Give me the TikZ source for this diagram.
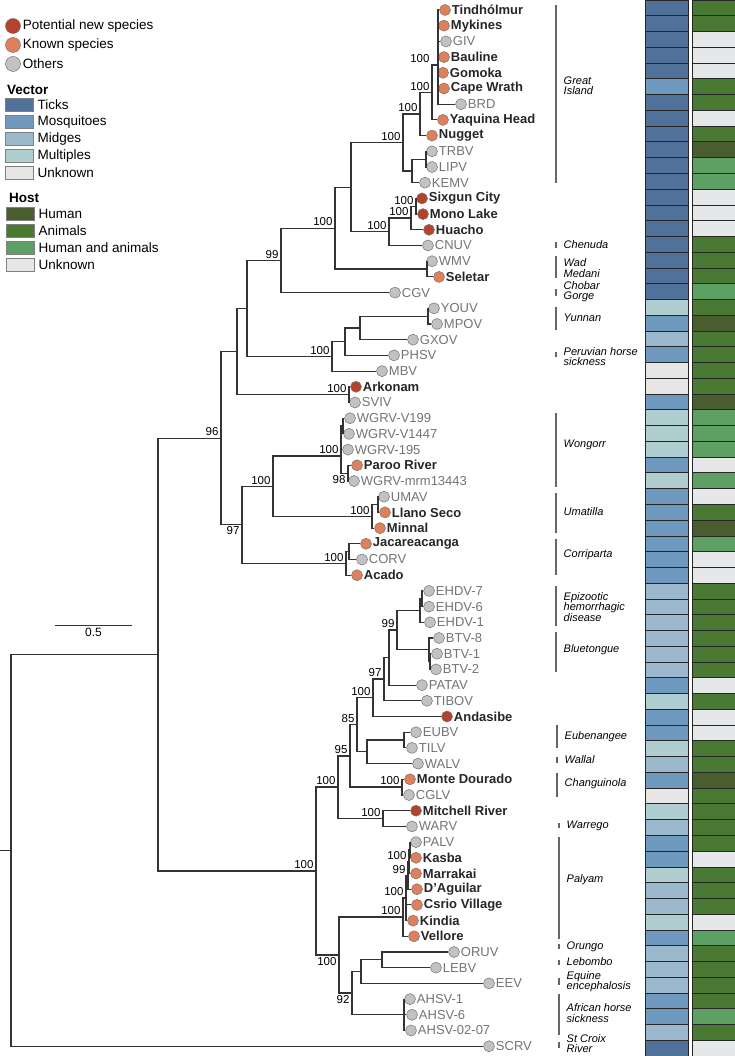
\documentclass[tikz,border=0pt]{standalone}
\usepackage{fontspec}
\setmainfont{Liberation Sans}
\usetikzlibrary{positioning}

\definecolor{vT}{HTML}{50729A}
\definecolor{vMo}{HTML}{7099BF}
\definecolor{vMi}{HTML}{9BB8CC}
\definecolor{vMu}{HTML}{B0CED0}
\definecolor{vU}{HTML}{E6E6E6}
\definecolor{hH}{HTML}{4A5D2E}
\definecolor{hA}{HTML}{4A7934}
\definecolor{hHA}{HTML}{5E9F63}
\definecolor{hU}{HTML}{E6E7E8}
\definecolor{newred}{HTML}{B5432B}
\definecolor{knownorg}{HTML}{E0805A}
\definecolor{othergrey}{HTML}{C2C2C2}

\newcommand\cladefont{\itshape\fontsize{11}{10.2}\selectfont\lineskiplimit=-20pt}

\begin{document}
\begin{tikzpicture}[x=1pt, y=-1pt,
    branch/.style={draw=black!80, line width=1.1pt},
    spdot/.style={circle, draw=black!55, line width=0.5pt, minimum size=11pt, inner sep=0pt},
    dotnew/.style={spdot, fill=newred},
    dotknown/.style={spdot, fill=knownorg},
    dotother/.style={spdot, fill=othergrey},
    txtnew/.style={anchor=west, inner sep=1pt, font=\fontsize{13}{13}\selectfont\bfseries, text=black!85},
    txtknown/.style={txtnew},
    txtother/.style={anchor=west, inner sep=1pt, font=\fontsize{13}{13}\selectfont, text=black!55},
    boot/.style={anchor=south east, inner sep=0.8pt, xshift=-1.5pt, yshift=1pt, font=\fontsize{11.5}{11.5}\selectfont},
    bootlow/.style={boot, anchor=north east, yshift=-2pt},
    clade/.style={anchor=west, inner sep=0pt, align=left, font=\cladefont},
    cladebar/.style={draw=black!60, line width=1.3pt},
    cell/.style={draw=black!85, line width=0.7pt},
    legbox/.style={draw=black!50, line width=0.8pt, minimum width=28pt, minimum height=13pt, inner sep=0pt},
    legdot/.style={spdot, minimum size=15pt},
    legtxt/.style={anchor=west, inner sep=0pt, font=\fontsize{13.5}{13.5}\selectfont},
    leghead/.style={legtxt, font=\fontsize{13.5}{13.5}\selectfont\bfseries},
]
\useasboundingbox (0,0) rectangle (735,1056);

% legend
\node[legdot, fill=newred] (lgnew) at (13,26) {};
\node[legtxt, right=2pt of lgnew] (lgnewt) {Potential new species};
\node[legdot, fill=knownorg] (lgknown) at (13,45) {};
\node[legtxt, right=2pt of lgknown] (lgknownt) {Known species};
\node[legdot, fill=othergrey] (lgother) at (13,64) {};
\node[legtxt, right=2pt of lgother] (lgothert) {Others};

\node[leghead] (vhead) at (7,90) {Vector};
\foreach \c/\txt [count=\i] in {vT/Ticks, vMo/Mosquitoes, vMi/Midges, vMu/Multiples, vU/Unknown} {
    \node[legbox, fill=\c] (vb\i) at (19,{88+17*\i}) {};
    \node[legtxt, right=4pt of vb\i] (vt\i) {\txt};
}
\node[leghead] (hhead) at (9,198) {Host};
\foreach \c/\txt [count=\i] in {hH/Human, hA/Animals, hHA/Human and animals, hU/Unknown} {
    \node[legbox, fill=\c] (hb\i) at (20,{197+17*\i}) {};
    \node[legtxt, right=4pt of hb\i] (ht\i) {\txt};
}

% scale bar
\coordinate (sbl) at (55,625);
\coordinate (sbr) at (132,625);
\draw[draw=black!80, line width=1pt] (sbl) -- (sbr) node[midway, below=3pt, inner sep=0pt, font=\fontsize{12}{12}\selectfont] (sbt) {0.5};

% tips
\foreach \i/\x/\typ/\lbl in {
    1/445/known/Tindhólmur, 2/444/known/Mykines, 3/446/other/GIV, 4/444/known/Bauline,
    5/443/known/Gomoka, 6/444/known/Cape Wrath, 7/461/other/BRD, 8/443/known/Yaquina Head,
    9/432/known/Nugget, 10/432/other/TRBV, 11/432/other/LIPV, 12/425/other/KEMV,
    13/422/new/Sixgun City, 14/423/new/Mono Lake, 15/429/new/Huacho, 16/428/other/CNUV,
    17/432/other/WMV, 18/439/known/Seletar, 19/395/other/CGV, 20/434/other/YOUV,
    21/437/other/MPOV, 22/413/other/GXOV, 23/394/other/PHSV, 24/382/other/MBV,
    25/356/new/Arkonam, 26/355/other/SVIV, 27/350/other/WGRV-V199, 28/349/other/WGRV-V1447,
    29/348/other/WGRV-195, 30/357/known/Paroo River, 31/354/other/WGRV-mrm13443,
    32/384/other/UMAV, 33/385/known/Llano Seco, 34/380/known/Minnal,
    35/366/known/Jacareacanga, 36/362/other/CORV, 37/357/known/Acado,
    38/429/other/EHDV-7, 39/429/other/EHDV-6, 40/430/other/EHDV-1,
    41/439/other/BTV-8, 42/437/other/BTV-1, 43/436/other/BTV-2, 44/422/other/PATAV,
    45/427/other/TIBOV, 46/447/new/Andasibe, 47/416/other/EUBV, 48/412/other/TILV,
    49/418/other/WALV, 50/410/known/Monte Dourado, 51/409/other/CGLV,
    52/416/new/Mitchell River, 53/412/other/WARV, 54/416/other/PALV, 55/416/known/Kasba,
    56/416/known/Marrakai, 57/417/known/D'Aguilar, 58/417/known/Csrio Village,
    59/413/known/Kindia, 60/414/known/Vellore, 61/454/other/ORUV, 62/436/other/LEBV,
    63/489/other/EEV, 64/410/other/AHSV-1, 65/412/other/AHSV-6, 66/411/other/AHSV-02-07,
    67/489/other/SCRV}
{
    \node[dot\typ] (l\i) at (\x,{10+(\i-1)*15.7}) {};
    \node[txt\typ] (t\i) at (l\i.east) {\lbl};
}

% internal nodes
\coordinate (stub) at (0,850.5);
\coordinate (root) at (11,850.5);
\coordinate (n158) at (158,654.8);
\coordinate (a96) at (221,438.1);
\coordinate (ark) at (237,351.5);
\coordinate (ek) at (247,308.4);
\coordinate (cg) at (281,260.4);
\coordinate (ch2) at (335,228.1);
\coordinate (gc) at (351,187.2);
\coordinate (tk) at (403,142.5);
\coordinate (ng) at (420,114);
\coordinate (yq) at (432,92.5);
\coordinate (gi) at (438,65);
\coordinate (tke) at (412,171);
\coordinate (tr) at (426,159.2);
\coordinate (cn) at (389,231.8);
\coordinate (sx1) at (411,218);
\coordinate (sx2) at (416,206.3);
\coordinate (wm) at (427,269);
\coordinate (ph) at (332,356.4);
\coordinate (ph2) at (345,341.7);
\coordinate (gx) at (360,328);
\coordinate (ym) at (428,316.2);
\coordinate (ak) at (349,394.6);
\coordinate (a97) at (242,524.8);
\coordinate (wu) at (273,486.2);
\coordinate (wg) at (341,456);
\coordinate (wg2) at (343,426);
\coordinate (wg3) at (348,473.2);
\coordinate (um) at (372,516.3);
\coordinate (ul) at (378,504.6);
\coordinate (co) at (346,563.4);
\coordinate (jc) at (349,551.7);
\coordinate (ox) at (316,871);
\coordinate (oy) at (338,787);
\coordinate (oz) at (350,756);
\coordinate (wr) at (383,818.5);
\coordinate (ow) at (357,724.8);
\coordinate (chg) at (402,787);
\coordinate (ov) at (373,697.8);
\coordinate (ew2) at (367,751.8);
\coordinate (ew) at (404,740);
\coordinate (ou) at (384,679);
\coordinate (ot) at (389,657.6);
\coordinate (os) at (397,630);
\coordinate (e1) at (420,610.5);
\coordinate (e2) at (422,598.7);
\coordinate (b1) at (429,649.8);
\coordinate (b2) at (430,661.5);
\coordinate (oq) at (339,955);
\coordinate (pe) at (403,917);
\coordinate (pd) at (406,898);
\coordinate (pc) at (408,876);
\coordinate (pb) at (409,861.7);
\coordinate (pa) at (410,850);
\coordinate (or) at (352,993);
\coordinate (ok) at (361,971.5);
\coordinate (ol) at (382,959.8);
\coordinate (ah) at (404,1014.7);

% branches
\draw[branch] (stub) -- (root);
\foreach \up/\dn in {root/n158, root/l67, n158/a96, n158/ox,
    a96/ark, a96/a97, ark/ek, ark/ak, ak/l25, ak/l26,
    ek/cg, ek/ph, cg/ch2, cg/l19, ch2/gc, ch2/wm, wm/l17, wm/l18,
    gc/tk, gc/cn, tk/ng, tk/tke, ng/yq, ng/l9, yq/gi, yq/l8,
    gi/l1, gi/l2, gi/l3, gi/l4, gi/l5, gi/l6, gi/l7,
    tke/tr, tke/l12, tr/l10, tr/l11,
    cn/sx1, cn/l16, sx1/sx2, sx1/l15, sx2/l13, sx2/l14,
    ph/ph2, ph/l24, ph2/gx, ph2/l23, gx/ym, gx/l22, ym/l20, ym/l21,
    a97/wu, a97/co, wu/wg, wu/um,
    wg/wg2, wg/l29, wg/wg3, wg2/l27, wg2/l28, wg3/l30, wg3/l31,
    um/ul, um/l34, ul/l32, ul/l33, co/jc, co/l37, jc/l35, jc/l36,
    ox/oy, ox/oq, oy/oz, oy/wr, wr/l52, wr/l53,
    oz/ow, oz/chg, chg/l50, chg/l51,
    ow/ov, ow/ew2, ew2/ew, ew2/l49, ew/l47, ew/l48,
    ov/ou, ov/l46, ou/ot, ou/l45, ot/os, ot/l44, os/e1, os/b1,
    e1/e2, e1/l40, e2/l38, e2/l39, b1/l41, b1/b2, b2/l42, b2/l43,
    oq/pe, oq/or, pe/pd, pe/l60, pd/pc, pd/l58, pd/l59,
    pc/pb, pc/l57, pb/pa, pb/l56, pa/l54, pa/l55,
    or/ok, or/ah, ok/ol, ok/l63, ol/l61, ol/l62, ah/l64, ah/l65, ah/l66}
    \draw[branch] (\up) |- (\dn);

% support values
\foreach \nd/\val in {yq/100, ng/100, tk/100, sx2/100, sx1/100, cn/100, ch2/100,
    cg/99, ph/100, ak/100, a96/96, wg/100, wu/100, um/100, co/100,
    os/99, ov/100, ou/97, ow/85, oz/95, oy/100, chg/100, wr/100, ox/100,
    pb/100, pc/99, pd/100, pe/100}
    \node[boot] (bs\nd) at (\nd) {\val};
\node[boot, xshift=-6pt] (bsgi) at (gi) {100};
\foreach \nd/\val in {a97/97, wg3/98, oq/100, or/92}
    \node[bootlow] (bs\nd) at (\nd) {\val};

% clade names
\foreach \x/\ya/\yb/\yt/\txt [count=\i] in {
    556/5/183/86/{Great\\Island}, 556/242/248/245/Chenuda, 556/256/278/268/{Wad\\Medani},
    556/289/296/292/{Chobar\\Gorge}, 556/307/330/318/Yunnan,
    556/352/357/356.5/{Peruvian horse\\sickness}, 556/413/487/445/Wongorr,
    556/493/533/512/Umatilla, 556/539/575/555/Corriparta,
    556/586/626/607/{Epizootic\\hemorrhagic\\disease}, 556/632/672/650/Bluetongue,
    557/725/748/737/Eubenangee, 557/757/763/760/Wallal, 557/773/797/784/Changuinola,
    559/823/828/826/Warrego, 559/837/939/880/Palyam, 559/944/949/947/Orungo,
    559/960/965/962/Lebombo, 559/978/985/982/{Equine\\encephalosis},
    559/994/1035/1013/{African horse\\sickness}, 559/1042/1048/1043.5/{St Croix\\River}}
{
    \draw[cladebar] (\x,\ya) -- (\x,\yb);
    \node[clade] (cl\i) at (\x+7.5,\yt) {\txt};
}

% vector and host columns
\foreach \v [count=\r] in {T,T,T,T,T,Mo,T,T,T,T,T,T,T,T,T,T,T,T,T,Mu,Mo,Mi,Mo,U,U,Mo,
    Mu,Mu,Mu,Mo,Mu,Mo,Mo,Mo,Mo,Mo,Mo,Mi,Mi,Mi,Mi,Mi,Mi,Mo,Mu,Mo,Mo,Mu,Mi,Mo,U,Mu,Mi,
    Mo,Mo,Mu,Mi,Mi,Mu,Mo,Mi,Mi,Mi,Mo,Mo,Mi,T}
    \draw[cell, fill=v\v] (645,{(\r-1)*15.761}) rectangle (688,{\r*15.761});
\foreach \h [count=\r] in {A,A,U,U,U,A,A,U,A,H,HA,HA,U,U,U,A,A,A,HA,A,H,A,A,A,A,H,
    HA,HA,HA,U,HA,U,A,H,HA,U,U,A,A,A,A,A,A,U,A,U,U,A,A,H,A,A,A,A,U,A,A,A,U,HA,A,A,A,A,
    HA,A,U}
    \draw[cell, fill=h\h] (692,{(\r-1)*15.761}) rectangle (735,{\r*15.761});
\end{tikzpicture}
\end{document}
